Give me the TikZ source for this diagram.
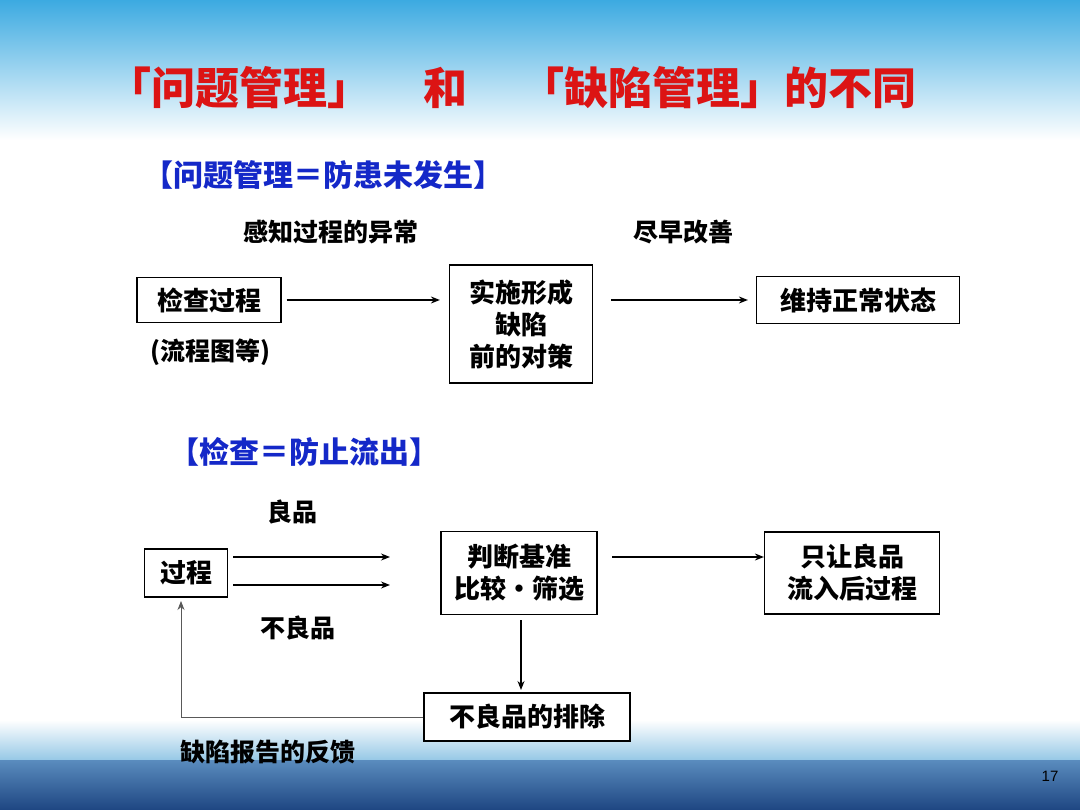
\documentclass[tikz,border=0pt]{standalone}
\usepackage{fontspec}
\setmainfont{Noto Sans CJK SC}
\setsansfont{Liberation Sans}
\usetikzlibrary{arrows.meta}
\definecolor{tred}{RGB}{220,20,20}
\definecolor{tblue}{RGB}{20,40,200}
\tikzset{
 box/.style={draw=black,line width=1.2pt,fill=white,font=\fontsize{26}{32}\selectfont\bfseries,align=center,inner sep=0pt},
 lbl/.style={font=\fontsize{25}{30}\selectfont\bfseries,inner sep=0pt},
 arr/.style={-{Stealth[length=9pt,width=7pt]},line width=1.2pt},
}
\begin{document}
\begin{tikzpicture}[x=1pt,y=-1pt]
\useasboundingbox (0,0) rectangle (1080,810);
\fill[white] (0,0) rectangle (1080,810);
\shade[top color={rgb,255:red,60;green,170;blue,225},bottom color=white] (0,0) rectangle (1080,140);
\shade[top color=white,bottom color={rgb,255:red,150;green,200;blue,230}] (0,720) rectangle (1080,760);
\shade[top color={rgb,255:red,90;green,140;blue,190},bottom color={rgb,255:red,30;green,70;blue,130}] (0,760) rectangle (1080,810);
\node[font=\fontsize{44}{50}\selectfont\bfseries,text=tred] (title) at (512,88) {「问题管理」\hspace{1.2em}和\hspace{1.2em}「缺陷管理」的不同};
\node[font=\fontsize{30}{36}\selectfont\bfseries,text=tblue,anchor=west] (s1) at (140,175) {【问题管理＝防患未发生】};
\node[lbl] (l1) at (331,232) {感知过程的异常};
\node[lbl] (l2) at (683,232) {尽早改善};
\node[box,minimum width=144pt,minimum height=45pt] (a) at (209,300) {检查过程};
\node[box,minimum width=143pt,minimum height=118pt] (b) at (521,324) {实施形成\\缺陷\\前的对策};
\node[box,minimum width=203pt,minimum height=47pt] (c) at (858,300) {维持正常状态};
\node[lbl] (l3) at (210,352) {(流程图等)};
\draw[arr] (a.east)++(5,0) -- ([xshift=-9pt]b.west|-a.east);
\draw[arr] ([xshift=18pt]b.east|-c.west) -- ([xshift=-8pt]c.west);
\node[font=\fontsize{30}{36}\selectfont\bfseries,text=tblue,anchor=west] (s2) at (166,452) {【检查＝防止流出】};
\node[lbl] (g) at (292,512) {良品};
\node[box,minimum width=83pt,minimum height=48pt] (p) at (186,573) {过程};
\node[lbl] (ng) at (298,628) {不良品};
\node[box,minimum width=156pt,minimum height=83pt] (j) at (519,573) {判断基准\\比较·筛选};
\node[box,minimum width=175pt,minimum height=82pt] (o) at (852,573) {只让良品\\流入后过程};
\node[box,minimum width=206pt,minimum height=48pt] (r) at (527,717) {不良品的排除};
\coordinate (u1) at (233,557); \coordinate (u2) at (390,557);
\coordinate (d1) at (233,585); \coordinate (d2) at (390,585);
\draw[arr] (u1) -- (u2);
\draw[arr] (d1) -- (d2);
\draw[arr] (612,557) -- (o.west|-0,557);
\draw[arr] (521,620) -- (521,690);
\draw[-{Stealth[length=9pt,width=7pt]},line width=0.8pt,draw=gray!70!black] (r.west) -- (181,717) -- (181,601);
\node[lbl] (fb) at (268,752) {缺陷报告的反馈};
\node[font=\sffamily\fontsize{15}{18}\selectfont] (pg) at (1050,776) {17};
\end{tikzpicture}
\end{document}
